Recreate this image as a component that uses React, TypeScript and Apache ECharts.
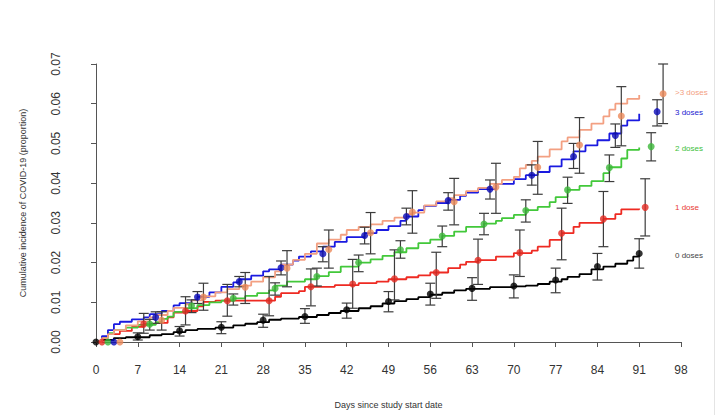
import React, { useEffect, useRef } from "react";
import * as echarts from "echarts";

// ---- Step curves (day, cumulative incidence) ----
const stepBlack: number[][] = [[0,0],[1,0.0005],[3,0.001],[5,0.0012],[9,0.0017],[11,0.002],[13,0.0025],[15,0.003],[17,0.0033],[20,0.0036],[23,0.0042],[25,0.0046],[27,0.005],[29,0.0056],[31,0.0059],[34,0.0063],[37,0.0068],[39,0.0073],[41,0.0078],[44,0.0085],[46,0.009],[48,0.0097],[50,0.0103],[52,0.0108],[54,0.0113],[56,0.0119],[58,0.0124],[60,0.013],[62,0.0134],[66,0.0138],[70,0.014],[72,0.0142],[74,0.0146],[76,0.0152],[78,0.0158],[79,0.0164],[81,0.0171],[83,0.0183],[85,0.019],[87,0.0197],[89,0.0205],[90,0.0215],[91,0.022]];
const stepRed: number[][] = [[0,0],[1,0.0012],[2,0.002],[4,0.0028],[6,0.0038],[8,0.0045],[10,0.0048],[12,0.0062],[13,0.0074],[15,0.0078],[17,0.009],[18,0.0101],[20,0.0104],[30,0.0114],[31,0.0123],[34,0.0128],[35,0.0139],[40,0.0143],[44,0.0148],[47,0.0152],[49,0.0158],[52,0.0163],[54,0.0168],[56,0.0175],[59,0.0186],[61,0.0195],[62,0.0202],[64,0.0206],[67,0.0215],[70,0.0224],[73,0.023],[74,0.024],[76,0.0257],[78,0.0274],[80,0.029],[81,0.03],[85,0.031],[87,0.0322],[88,0.0334],[91,0.0336]];
const stepGreen: number[][] = [[0,0],[1,0.001],[2,0.0022],[3,0.003],[5,0.0036],[7,0.0043],[10,0.005],[11,0.0058],[12,0.0064],[13,0.0076],[15,0.0085],[17,0.0093],[19,0.01],[21,0.0104],[23,0.011],[25,0.0116],[27,0.0123],[29,0.013],[30,0.0142],[32,0.0152],[35,0.0158],[37,0.0166],[39,0.0176],[41,0.019],[44,0.02],[46,0.0208],[48,0.0217],[50,0.0226],[52,0.0236],[54,0.0249],[56,0.0258],[58,0.0267],[60,0.0278],[62,0.029],[65,0.0298],[67,0.0305],[68,0.0312],[70,0.032],[72,0.0332],[74,0.034],[76,0.0352],[77,0.0365],[79,0.0383],[81,0.0393],[83,0.0405],[85,0.0425],[86,0.044],[88,0.0462],[89,0.0484],[91,0.049]];
const stepBlue: number[][] = [[0,0],[1,0.0015],[2,0.003],[3,0.0045],[4,0.0051],[6,0.0057],[8,0.0062],[9,0.007],[11,0.0078],[13,0.0092],[14,0.0098],[16,0.0106],[17,0.0114],[19,0.0125],[21,0.0139],[23,0.015],[24,0.0158],[26,0.0167],[28,0.0178],[29,0.0183],[31,0.0195],[33,0.0205],[34,0.0215],[36,0.0228],[38,0.024],[40,0.0252],[42,0.0264],[45,0.0274],[47,0.0282],[49,0.0292],[51,0.0305],[52,0.0316],[54,0.0332],[55,0.0343],[57,0.035],[59,0.0358],[61,0.0368],[62,0.0376],[64,0.0385],[67,0.0398],[70,0.041],[72,0.042],[74,0.0428],[76,0.0442],[78,0.046],[80,0.048],[82,0.0495],[84,0.0508],[86,0.0525],[88,0.0545],[89,0.0558],[91,0.0575]];
const stepOrange: number[][] = [[0,0],[1,0.001],[2,0.002],[3,0.003],[5,0.0042],[7,0.0052],[9,0.0062],[10,0.0068],[12,0.0078],[13,0.0086],[15,0.0095],[16,0.0105],[18,0.0115],[20,0.0125],[22,0.0133],[24,0.0142],[26,0.0152],[28,0.0163],[30,0.0178],[31,0.0195],[33,0.0207],[35,0.0222],[37,0.0248],[39,0.0258],[41,0.027],[42,0.0282],[44,0.029],[46,0.0296],[48,0.0305],[50,0.0313],[52,0.0322],[53,0.0326],[55,0.0344],[57,0.0354],[59,0.0362],[60,0.037],[62,0.038],[64,0.0388],[66,0.0398],[68,0.0408],[70,0.0416],[71,0.0437],[72,0.0446],[73,0.0456],[74,0.0467],[76,0.0485],[78,0.0505],[79,0.0515],[81,0.0534],[83,0.055],[85,0.0568],[86,0.0585],[87,0.06],[89,0.0612],[91,0.0622]];

// ---- Weekly point estimates with 95% CI ----
const daysBlack = [0, 7, 14, 21, 28, 35, 42, 49, 56, 63, 70, 77, 84, 91];
const valBlack = [0, 0.0013, 0.0028, 0.0037, 0.0055, 0.0064, 0.0081, 0.0102, 0.0121, 0.0135, 0.0141, 0.0156, 0.019, 0.0223];
const lowBlack = [0, 0.0005, 0.0015, 0.0021, 0.0037, 0.0047, 0.006, 0.0076, 0.0093, 0.0105, 0.0111, 0.0124, 0.0156, 0.0186];
const highBlack = [0, 0.0023, 0.0039, 0.0051, 0.007, 0.0084, 0.0098, 0.0127, 0.0148, 0.0162, 0.0169, 0.0186, 0.0223, 0.026];

const daysRed = [1, 8, 15, 22, 29, 36, 43, 50, 57, 64, 71, 78, 85, 92];
const valRed = [0, 0.0045, 0.0078, 0.0104, 0.0104, 0.0139, 0.0146, 0.0159, 0.0175, 0.0206, 0.0225, 0.0274, 0.031, 0.0339];
const lowRed = [0, 0.0022, 0.0043, 0.0065, 0.0066, 0.0091, 0.0085, 0.0106, 0.011, 0.0145, 0.0165, 0.0207, 0.024, 0.0267];
const highRed = [0, 0.0072, 0.0114, 0.0145, 0.0165, 0.0184, 0.0208, 0.0232, 0.0226, 0.0259, 0.0282, 0.0337, 0.0379, 0.0411];

const daysGreen = [2, 9, 16, 23, 30, 37, 44, 51, 58, 65, 72, 79, 86, 93];
const valGreen = [0, 0.0045, 0.0091, 0.011, 0.0135, 0.0165, 0.02, 0.0232, 0.0267, 0.0297, 0.0331, 0.0383, 0.0439, 0.0492];
const lowGreen = [0, 0.003, 0.0074, 0.0093, 0.0118, 0.0141, 0.0177, 0.0211, 0.024, 0.027, 0.0302, 0.0349, 0.0404, 0.0456];
const highGreen = [0, 0.0057, 0.0106, 0.0121, 0.0149, 0.0186, 0.0219, 0.0255, 0.0292, 0.0324, 0.0358, 0.0415, 0.0471, 0.0527];

const daysBlue = [3, 10, 17, 24, 31, 38, 45, 52, 59, 66, 73, 80, 87, 94];
const valBlue = [0, 0.0062, 0.0113, 0.0152, 0.0187, 0.0222, 0.0268, 0.0316, 0.0356, 0.0385, 0.042, 0.0467, 0.052, 0.058];
const lowBlue = [0, 0.0047, 0.0097, 0.0139, 0.0169, 0.0202, 0.0247, 0.0295, 0.0332, 0.036, 0.0395, 0.0437, 0.049, 0.0544];
const highBlue = [0, 0.0076, 0.0127, 0.0165, 0.0204, 0.024, 0.0289, 0.0337, 0.0376, 0.0408, 0.0446, 0.05, 0.0549, 0.061];

const daysOrange = [4, 11, 18, 25, 32, 39, 46, 53, 60, 67, 74, 81, 88, 95];
const valOrange = [0, 0.0055, 0.0113, 0.0138, 0.0186, 0.0233, 0.0275, 0.0327, 0.0353, 0.039, 0.044, 0.0496, 0.0569, 0.0625];
const lowOrange = [0, 0.003, 0.008, 0.0097, 0.0139, 0.0186, 0.0222, 0.0274, 0.0295, 0.0324, 0.0372, 0.0425, 0.0494, 0.055];
const highOrange = [0, 0.0076, 0.0148, 0.0175, 0.023, 0.0282, 0.0326, 0.0381, 0.0412, 0.045, 0.0505, 0.0565, 0.0643, 0.07];

const xTicks = [0, 7, 14, 21, 28, 35, 42, 49, 56, 63, 70, 77, 84, 91, 98];
const groupLabels = [">3 doses", "3 doses", "2 doses", "1 dose", "0 doses"];

const FONT = "Liberation Sans, Arial, sans-serif";

export default function App() {
  const ref = useRef<HTMLDivElement>(null);
  useEffect(() => {
    if (!ref.current) return;
    const chart = echarts.init(ref.current, null, { renderer: "svg" });

    const groups = [
      { name: "0 doses", step: stepBlack, days: daysBlack, val: valBlack, low: lowBlack, high: highBlack, line: "#000000", dot: "#000000" },
      { name: "1 dose", step: stepRed, days: daysRed, val: valRed, low: lowRed, high: highRed, line: "#ee2a22", dot: "#e32a22" },
      { name: "2 doses", step: stepGreen, days: daysGreen, val: valGreen, low: lowGreen, high: highGreen, line: "#42c83a", dot: "#3cb83a" },
      { name: "3 doses", step: stepBlue, days: daysBlue, val: valBlue, low: lowBlue, high: highBlue, line: "#1a1ae0", dot: "#0a0ab8" },
      { name: ">3 doses", step: stepOrange, days: daysOrange, val: valOrange, low: lowOrange, high: highOrange, line: "#f3a082", dot: "#ec8a5a" },
    ];

    const series: any[] = [];
    groups.forEach((g) => {
      series.push({
        type: "line",
        name: g.name,
        step: "end",
        data: g.step,
        showSymbol: false,
        lineStyle: { color: g.line, width: 1.8 },
        z: 2,
      });
    });
    groups.forEach((g) => {
      series.push({
        type: "custom",
        name: g.name + " CI",
        data: g.days.map((d, i) => [d, g.low[i], g.high[i]]).filter((r) => r[2] > r[1]),
        encode: { x: 0, y: [1, 2] },
        z: 3,
        renderItem: (params: any, api: any) => {
          const x = api.value(0);
          const lo = api.coord([x, api.value(1)]);
          const hi = api.coord([x, api.value(2)]);
          const w = 5;
          const st = { stroke: "#3c3c3c", lineWidth: 1.2 };
          return {
            type: "group",
            children: [
              { type: "line", shape: { x1: lo[0], y1: lo[1], x2: hi[0], y2: hi[1] }, style: st },
              { type: "line", shape: { x1: lo[0] - w, y1: lo[1], x2: lo[0] + w, y2: lo[1] }, style: st },
              { type: "line", shape: { x1: hi[0] - w, y1: hi[1], x2: hi[0] + w, y2: hi[1] }, style: st },
            ],
          };
        },
      });
    });
    groups.forEach((g) => {
      series.push({
        type: "scatter",
        name: g.name + " pts",
        data: g.days.map((d, i) => [d, g.val[i]]),
        symbol: "circle",
        symbolSize: 7,
        itemStyle: { color: g.dot },
        z: 4,
      });
    });

    const legendColors = ["#f3a082", "#1a1ad0", "#3cc03a", "#e83a32", "#444444"];
    const legendY = [93, 113, 149, 208, 256];

    chart.setOption({
      animation: false,
      backgroundColor: "#ffffff",
      textStyle: { fontFamily: FONT },
      grid: { left: 96, right: 39, top: 64, bottom: 73 },
      xAxis: {
        type: "value",
        min: 0,
        max: 98,
        interval: 7,
        offset: 11,
        name: "Days since study start date",
        nameLocation: "middle",
        nameGap: 47,
        nameTextStyle: { fontSize: 9, color: "#333", fontFamily: FONT },
        axisLine: { show: true, lineStyle: { color: "#555", width: 1 } },
        axisTick: { show: true, length: 5, lineStyle: { color: "#555" } },
        axisLabel: {
          fontSize: 12,
          color: "#333",
          margin: 11,
          fontFamily: FONT,
          formatter: (v: number) => (xTicks.indexOf(v) >= 0 ? String(v) : ""),
        },
        splitLine: { show: false },
      },
      yAxis: {
        type: "value",
        min: 0,
        max: 0.07,
        interval: 0.01,
        offset: 24,
        name: "Cumulative incidence of COVID-19 (proportion)",
        nameLocation: "middle",
        nameGap: 45,
        nameTextStyle: { fontSize: 9, color: "#333", fontFamily: FONT },
        axisLine: { show: true, lineStyle: { color: "#555", width: 1 } },
        axisTick: { show: true, length: 5, lineStyle: { color: "#555" } },
        axisLabel: {
          fontSize: 12,
          color: "#333",
          rotate: 90,
          margin: 10,
          fontFamily: FONT,
          formatter: (v: number) => v.toFixed(2),
        },
        splitLine: { show: false },
      },
      graphic: [
        ...groupLabels.map((t, i) => ({
          type: "text",
          left: 675,
          top: legendY[i] - 5,
          style: { text: t, fill: legendColors[i], fontSize: 8, fontFamily: FONT },
        })),
        {
          type: "line",
          shape: { x1: 714.5, y1: 0, x2: 714.5, y2: 415 },
          style: { stroke: "#e4e4e4", lineWidth: 1 },
        },
      ],
      series,
    });
    return () => chart.dispose();
  }, []);
  return (
    <div
      ref={ref}
      style={{ position: "absolute", left: 0, top: 0, width: 720, height: 415 }}
    />
  );
}
